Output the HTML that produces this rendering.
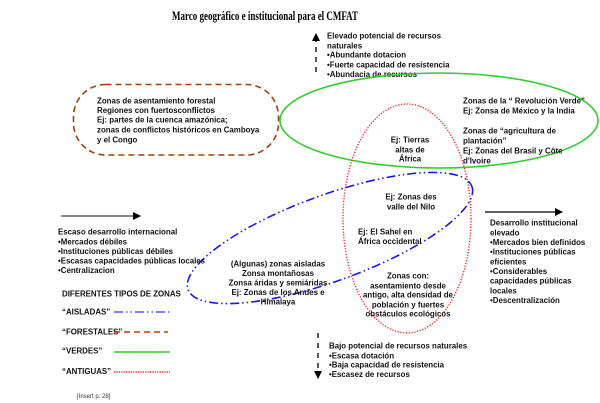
<!DOCTYPE html>
<html><head><meta charset="utf-8"><style>
html,body{margin:0;padding:0;background:#fff}
svg{display:block}
text{font-family:"Liberation Sans",Arial,sans-serif;font-weight:bold;font-size:7.9px;fill:#111}
.c{text-anchor:middle}
</style></head><body>
<svg width="600" height="403" viewBox="0 0 600 403" xmlns="http://www.w3.org/2000/svg">
<defs>
<marker id="ah" markerWidth="8" markerHeight="8" refX="7" refY="4" orient="auto" markerUnits="userSpaceOnUse"><path d="M0,0 L8,4 L0,8 z" fill="#000"/></marker>
</defs>
<text x="265" y="20" class="c" textLength="186" lengthAdjust="spacingAndGlyphs" style="font-family:'Liberation Serif',serif;font-size:12.5px;fill:#000">Marco geográfico e institucional para el CMFAT</text>

<!-- up arrow -->
<line x1="316" y1="72" x2="316" y2="34" stroke="#000" stroke-width="1.3" stroke-dasharray="5,5" marker-end="url(#ah)"/>
<text x="327" y="38.5">Elevado potencial de recursos</text>
<text x="327" y="48.5">naturales</text>
<text x="327" y="57.5">•Abundante dotacion</text>
<text x="327" y="67.5">•Fuerte capacidad de resistencia</text>
<text x="327" y="77">•Abundacia de recursos</text>

<!-- brown -->
<rect x="73.5" y="84.5" width="205" height="70.5" rx="32" ry="32" fill="none" stroke="#a0400a" stroke-width="1.6" stroke-dasharray="6,4"/>
<text x="97" y="103.5">Zonas de asentamiento forestal</text>
<text x="97" y="113">Regiones con fuertosconflictos</text>
<text x="97" y="122.5">Ej: partes de la cuenca amazónica;</text>
<text x="97" y="132.5">zonas de conflictos históricos en  Camboya</text>
<text x="97" y="142.5">y el Congo</text>

<!-- green -->
<ellipse cx="439" cy="120.5" rx="159" ry="47.5" fill="none" stroke="#33cc33" stroke-width="1.6"/>
<!-- red -->
<ellipse cx="407" cy="218.5" rx="64" ry="114.5" fill="none" stroke="#ff2020" stroke-width="1.4" stroke-dasharray="1.2,1.6"/>
<!-- blue -->
<ellipse cx="330" cy="238" rx="151" ry="43" transform="rotate(-20 330 238)" fill="none" stroke="#1a1aee" stroke-width="1.6" stroke-dasharray="9,3,1.5,3,1.5,3"/>

<text x="463" y="103.5">Zonas de la “ Revolución Verde”</text>
<text x="463" y="113.5">Ej: Zonsa de México y la India</text>
<text x="463" y="133.5">Zonas de “agricultura de</text>
<text x="463" y="143.5">plantación”</text>
<text x="463" y="153.5">Ej: Zonas del Brasil y Côte</text>
<text x="463" y="163.5">d'Ivoire</text>

<text x="410" y="142.5" class="c">Ej: Tierras</text>
<text x="410" y="152.5" class="c">altas de</text>
<text x="410" y="161.5" class="c">África</text>

<text x="411" y="199.5" class="c">Ej: Zonas des</text>
<text x="411" y="209.5" class="c">valle del Nilo</text>
<text x="358" y="234.5">Ej: El Sahel en</text>
<text x="358" y="244">África occidental</text>

<text x="278" y="266.5" class="c">(Algunas) zonas aisladas</text>
<text x="278" y="276" class="c">Zonsa montañosas</text>
<text x="278" y="285.5" class="c">Zonsa áridas y semiáridas</text>
<text x="278" y="295" class="c">Ej: Zonas de los Andes e</text>
<text x="278" y="304.5" class="c">Himalaya</text>

<text x="408" y="278.5" class="c">Zonas con:</text>
<text x="408" y="288.5" class="c">asentamiento desde</text>
<text x="408" y="297.5" class="c">antigo, alta densidad de</text>
<text x="408" y="307.5" class="c">población y fuertes</text>
<text x="408" y="316.5" class="c">obstáculos ecológicos</text>

<!-- left -->
<line x1="61" y1="216" x2="140" y2="216" stroke="#444" stroke-width="1.3" marker-end="url(#ah)"/>
<text x="58" y="234.5">Escaso desarrollo internacional</text>
<text x="58" y="244.5">•Mercados débiles</text>
<text x="58" y="254">•Instituciones públicas débiles</text>
<text x="58" y="263.5">•Escasas capacidades públicas locales</text>
<text x="58" y="273">•Centralizacion</text>

<text x="62" y="296.5">DIFERENTES TIPOS DE ZONAS</text>
<text x="62" y="314.5">“AISLADAS”</text>
<line x1="114" y1="312" x2="170" y2="312" stroke="#5555ff" stroke-width="1.5" stroke-dasharray="9,3,1.5,3,1.5,3"/>
<text x="62" y="334.5">“FORESTALES”</text>
<line x1="114" y1="332" x2="168" y2="332" stroke="#b8400a" stroke-width="1.5" stroke-dasharray="6,4"/>
<text x="62" y="353.5">“VERDES”</text>
<line x1="114" y1="352" x2="170" y2="352" stroke="#33cc33" stroke-width="1.5"/>
<text x="62" y="374">“ANTIGUAS”</text>
<line x1="114" y1="372" x2="170" y2="372" stroke="#ff2020" stroke-width="1.4" stroke-dasharray="1.2,1.2"/>

<text x="77" y="398" style="font-weight:normal;font-size:6px;fill:#333">[Insert  p. 28]</text>

<!-- right -->
<line x1="485" y1="212" x2="562" y2="212" stroke="#000" stroke-width="1.3" marker-end="url(#ah)"/>
<text x="490" y="225.5">Desarrollo institucional</text>
<text x="490" y="235.5">elevado</text>
<text x="490" y="245">•Mercados bien definidos</text>
<text x="490" y="254.5">•Instituciones públicas</text>
<text x="490" y="264.5">eficientes</text>
<text x="490" y="274">•Considerables</text>
<text x="490" y="283.5">capacidades públicas</text>
<text x="490" y="293.5">locales</text>
<text x="490" y="303">•Descentralización</text>

<!-- down -->
<line x1="318" y1="333" x2="318" y2="378" stroke="#000" stroke-width="1.3" stroke-dasharray="5,5" marker-end="url(#ah)"/>
<text x="329" y="348.5">Bajo potencial de recursos naturales</text>
<text x="329" y="358.5">•Escasa dotación</text>
<text x="329" y="367.5">•Baja capacidad de resistencia</text>
<text x="329" y="377">•Escasez de recursos</text>
</svg>
</body></html>
